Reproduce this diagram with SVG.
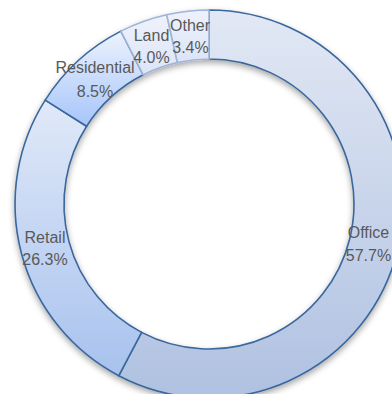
<svg xmlns="http://www.w3.org/2000/svg" width="392" height="394" viewBox="0 0 392 394">
<style>
.lbl{font-family:"Liberation Sans",Arial,sans-serif;font-size:16px;fill:#595959;text-anchor:middle}
.main{stroke:#3a679c;stroke-width:1.6}
.light{stroke:#9fb4d6;stroke-width:1.6}
</style>
<defs>
<linearGradient id="gOffice" x1="0" y1="0" x2="0" y2="1"><stop offset="0" stop-color="#e2e8f4"/><stop offset="1" stop-color="#afc1e1"/></linearGradient>
<linearGradient id="gRetail" x1="0" y1="0" x2="0" y2="1"><stop offset="0" stop-color="#e0e9f8"/><stop offset="1" stop-color="#a8c2ee"/></linearGradient>
<linearGradient id="gRes" x1="0" y1="0" x2="0" y2="1"><stop offset="0" stop-color="#ecf2fd"/><stop offset="1" stop-color="#a6c5fa"/></linearGradient>
<linearGradient id="gLand" x1="0" y1="0" x2="0" y2="1"><stop offset="0" stop-color="#eef2fb"/><stop offset="1" stop-color="#dbe4f8"/></linearGradient>
<filter id="sh" x="-10%" y="-10%" width="120%" height="120%"><feDropShadow dx="0" dy="3" stdDeviation="3" flood-color="#000" flood-opacity="0.35"/></filter>
</defs>
<g filter="url(#sh)">
<g id="office"><path class="main" fill="url(#gOffice)" d="M209,10 A194,194 0 1 1 118.8,375.7 L141.6,332.4 A145,145 0 1 0 209,59 Z"/></g>
<g id="retail"><path class="main" fill="url(#gRetail)" d="M118.8,375.7 A194,194 0 0 1 45.2,100.1 L86.6,126.3 A145,145 0 0 0 141.6,332.4 Z"/></g>
<g id="residential"><path class="main" fill="url(#gRes)" d="M45.2,100.1 A194,194 0 0 1 120.9,31.1 L143.2,74.8 A145,145 0 0 0 86.6,126.3 Z"/></g>
<g id="land"><path class="light" fill="url(#gLand)" d="M120.9,31.1 A194,194 0 0 1 166.7,14.7 L177.4,62.5 A145,145 0 0 0 143.2,74.8 Z"/></g>
<g id="other"><path class="light" fill="url(#gLand)" d="M166.7,14.7 A194,194 0 0 1 209,10 L209,59 A145,145 0 0 0 177.4,62.5 Z"/></g>
</g>
<g id="connectors"></g>
<g id="labels">
<text class="lbl" x="368.5" y="238">Office</text><text class="lbl" x="368.5" y="261">57.7%</text>
<text class="lbl" x="45" y="243">Retail</text><text class="lbl" x="45" y="265">26.3%</text>
<text class="lbl" x="95" y="73">Residential</text><text class="lbl" x="95" y="97">8.5%</text>
<text class="lbl" x="151.5" y="41">Land</text><text class="lbl" x="151.5" y="63">4.0%</text>
<text class="lbl" x="190" y="31">Other</text><text class="lbl" x="190.5" y="53">3.4%</text>
</g>
</svg>
